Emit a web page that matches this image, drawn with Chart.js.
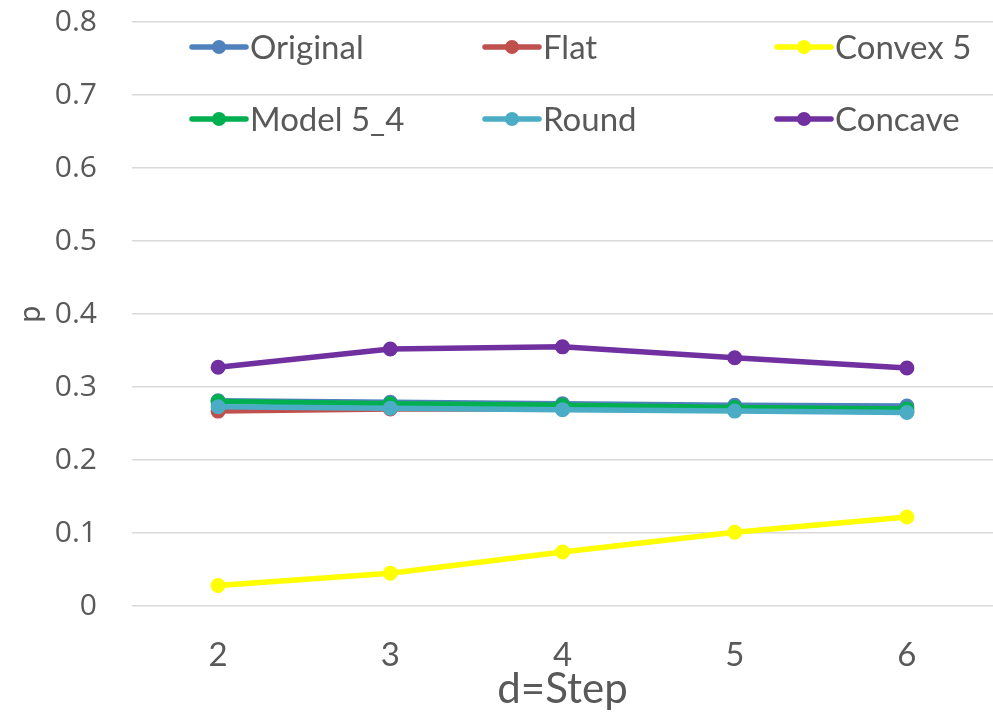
<!DOCTYPE html>
<html>
<head>
<meta charset="utf-8">
<script src="https://cdn.jsdelivr.net/npm/chart.js@4/dist/chart.umd.min.js"></script>
<style>
  html, body { margin: 0; padding: 0; background: #ffffff; }
  #wrap { width: 993px; height: 715px; }
</style>
</head>
<body>
<div id="wrap"><canvas id="c" width="993" height="715"></canvas></div>
<script>
// Step sizes on the x axis
const steps = ['2', '3', '4', '5', '6'];

// p for each model at every step
const original = [0.281, 0.279, 0.277, 0.275, 0.274];
const flat     = [0.267, 0.270, 0.270, 0.268, 0.266];
const convex5  = [0.028, 0.045, 0.074, 0.101, 0.122];
const model54  = [0.280, 0.277, 0.275, 0.272, 0.270];
const round    = [0.273, 0.271, 0.269, 0.267, 0.265];
const concave  = [0.327, 0.352, 0.355, 0.340, 0.326];

const seriesNames = ['Original', 'Flat', 'Convex 5', 'Model 5_4', 'Round', 'Concave'];
const seriesValues = [original, flat, convex5, model54, round, concave];
const seriesColors = ['#4F81BD', '#C0504D', '#FFFF00', '#00B050', '#4BACC6', '#7030A0'];

const yTickLabels = ['0', '0.1', '0.2', '0.3', '0.4', '0.5', '0.6', '0.7', '0.8'];
const xTitle = 'd=Step';
const yTitle = 'p';

const textColor = '#595959';

const datasets = seriesValues.map((vals, i) => ({
  label: seriesNames[i],
  data: vals,
  borderColor: seriesColors[i],
  backgroundColor: seriesColors[i],
  pointBackgroundColor: seriesColors[i],
  pointBorderColor: seriesColors[i],
  borderWidth: 5.5,
  pointRadius: 6.5,
  pointBorderWidth: 2,
  borderCapStyle: 'round',
  borderJoinStyle: 'round',
  tension: 0,
  // later series are painted over earlier ones
  order: seriesValues.length - i
}));

// Two-row, three-column legend drawn inside the plot area
const gridLegend = {
  id: 'gridLegend',
  afterDraw(chart) {
    const ctx = chart.ctx;
    const colX = [190, 483, 775];
    const rowY = [47, 119];
    ctx.save();
    chart.data.datasets.forEach((ds, i) => {
      const x = colX[i % 3];
      const y = rowY[Math.floor(i / 3)];
      ctx.strokeStyle = ds.borderColor;
      ctx.lineWidth = 5.5;
      ctx.lineCap = 'round';
      ctx.beginPath();
      ctx.moveTo(x + 2, y);
      ctx.lineTo(x + 56, y);
      ctx.stroke();
      ctx.fillStyle = ds.borderColor;
      ctx.beginPath();
      ctx.arc(x + 29, y, 7, 0, Math.PI * 2);
      ctx.fill();
      ctx.fillStyle = textColor;
      ctx.font = '33px Lato';
      ctx.textBaseline = 'middle';
      ctx.textAlign = 'left';
      ctx.fillText(ds.label, x + 60, y + 1);
    });
    ctx.restore();
  }
};

new Chart(document.getElementById('c'), {
  type: 'line',
  data: { labels: steps, datasets },
  plugins: [gridLegend],
  options: {
    responsive: false,
    animation: false,
    devicePixelRatio: 1,
    layout: { autoPadding: false, padding: { top: 22, right: 0, bottom: 0, left: 0 } },
    plugins: {
      legend: { display: false },
      tooltip: { enabled: false }
    },
    scales: {
      x: {
        type: 'category',
        offset: true,
        grid: { display: false, drawTicks: false },
        border: { display: false },
        ticks: {
          color: textColor,
          font: { family: 'Lato', size: 33 },
          padding: 30,
          maxRotation: 0
        },
        title: {
          display: true,
          text: xTitle,
          color: textColor,
          font: { family: 'Lato', size: 42 },
          padding: { top: 0, bottom: 0 }
        },
        afterFit(scale) {
          scale.height = 109;
          scale.paddingLeft = 0;
          scale.paddingRight = 0;
        }
      },
      y: {
        min: 0,
        max: 0.8,
        grid: { color: '#d9d9d9', lineWidth: 1.5, drawTicks: false },
        border: { display: false },
        ticks: {
          stepSize: 0.1,
          color: textColor,
          font: { family: 'Open Sans', size: 30 },
          padding: 35,
          callback: (v, i) => yTickLabels[i]
        },
        title: {
          display: true,
          text: yTitle,
          color: textColor,
          font: { family: 'Lato', size: 30 },
          padding: { top: 12, bottom: 0 }
        },
        afterFit(scale) {
          scale.width = 132;
          scale.paddingTop = 0;
          scale.paddingBottom = 0;
        }
      }
    }
  }
});
</script>
</body>
</html>
